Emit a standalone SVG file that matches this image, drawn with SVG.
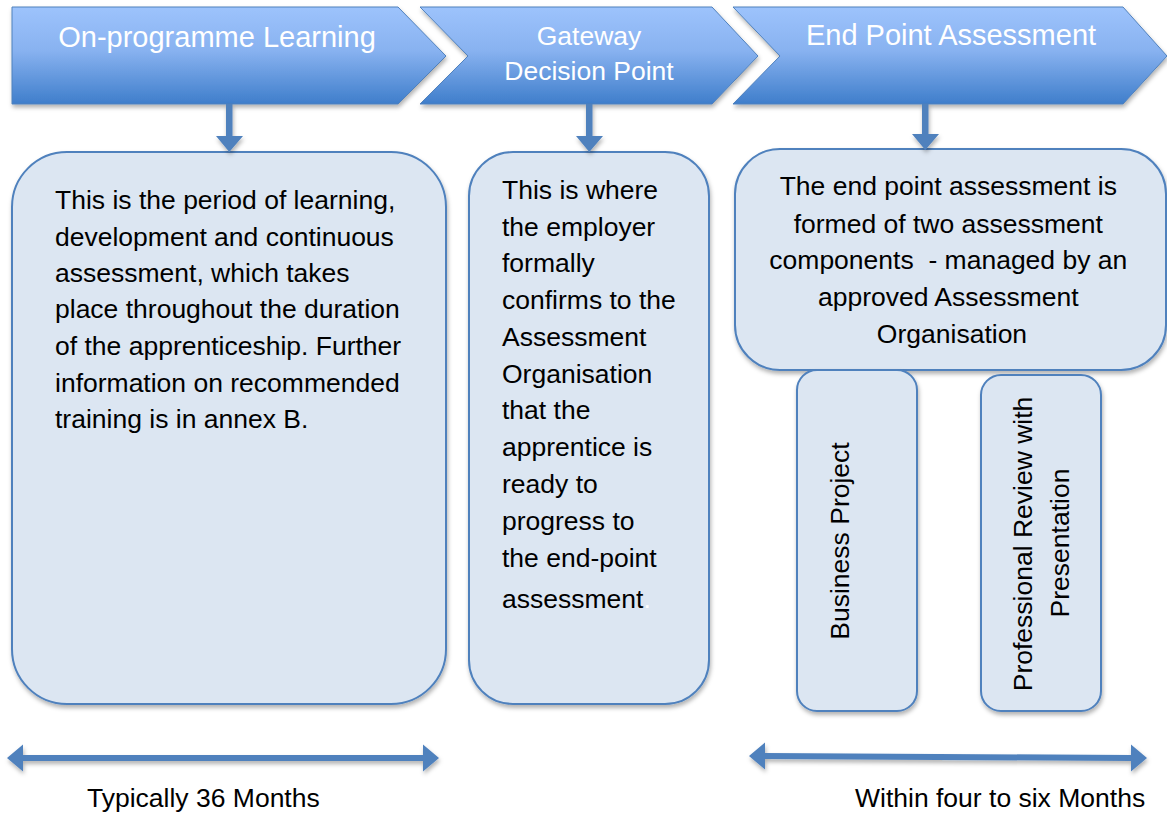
<svg xmlns="http://www.w3.org/2000/svg" width="1167" height="813" viewBox="0 0 1167 813">
<defs>
  <linearGradient id="chev" x1="0" y1="0" x2="0" y2="1">
    <stop offset="0" stop-color="#9dc3fc"/>
    <stop offset="0.45" stop-color="#88b2f0"/>
    <stop offset="1" stop-color="#3f7ecb"/>
  </linearGradient>
  <filter id="sh" filterUnits="userSpaceOnUse" x="0" y="0" width="1167" height="813">
    <feDropShadow dx="1" dy="3" stdDeviation="2" flood-color="#000" flood-opacity="0.3"/>
  </filter>
</defs>
<style>
  .chev { fill: url(#chev); stroke: #4f81bd; stroke-width: 1; filter: url(#sh); }
  .box { fill: #dce6f2; stroke: #4f81bd; stroke-width: 2; filter: url(#sh); }
  .ht { font-family: "Liberation Sans", Arial, sans-serif; fill: #ffffff; }
  .bt { font-family: "Liberation Sans", Arial, sans-serif; font-size: 26.5px; fill: #000000; }
  .arr { fill: #4f81bd; filter: url(#sh); }
</style>

<g id="chevron-onprog">
  <path class="chev" d="M12,7 L398,7 L446,56 L398,104 L12,104 Z"/>
  <text class="ht" x="217" y="47" font-size="29" text-anchor="middle">On-programme Learning</text>
</g>
<g id="chevron-gateway">
  <path class="chev" d="M420,7 L712,7 L758,56 L712,104 L420,104 L468,56 Z"/>
  <text class="ht" x="589" y="45" font-size="26.5" text-anchor="middle">Gateway</text>
  <text class="ht" x="589" y="80" font-size="26.5" text-anchor="middle">Decision Point</text>
</g>
<g id="chevron-epa">
  <path class="chev" d="M733,7 L1123,7 L1167,56 L1123,104 L733,104 L780,56 Z"/>
  <text class="ht" x="951" y="45" font-size="29" text-anchor="middle">End Point Assessment</text>
</g>

<g id="box-onprog">
  <rect class="box" x="12" y="152" width="434" height="552" rx="55" ry="55"/>
  <text class="bt">
    <tspan x="55" y="209">This is the period of learning,</tspan>
    <tspan x="55" y="246">development and continuous</tspan>
    <tspan x="55" y="282">assessment, which takes</tspan>
    <tspan x="55" y="318">place throughout the duration</tspan>
    <tspan x="55" y="355">of the apprenticeship. Further</tspan>
    <tspan x="55" y="392">information on recommended</tspan>
    <tspan x="55" y="428">training is in annex B.</tspan>
  </text>
</g>

<g id="box-gateway">
  <rect class="box" x="469" y="152" width="240" height="552" rx="44" ry="44"/>
  <text class="bt">
    <tspan x="502" y="199">This is where</tspan>
    <tspan x="502" y="236">the employer</tspan>
    <tspan x="502" y="272">formally</tspan>
    <tspan x="502" y="309">confirms to the</tspan>
    <tspan x="502" y="346">Assessment</tspan>
    <tspan x="502" y="383">Organisation</tspan>
    <tspan x="502" y="419">that the</tspan>
    <tspan x="502" y="456">apprentice is</tspan>
    <tspan x="502" y="493">ready to</tspan>
    <tspan x="502" y="530">progress to</tspan>
    <tspan x="502" y="567">the end-point</tspan>
    <tspan x="502" y="608">assessment<tspan fill="#ffffff">.</tspan></tspan>
  </text>
</g>

<g id="box-epa">
  <rect class="box" x="735" y="149" width="431" height="221" rx="45" ry="45"/>
  <text class="bt" text-anchor="middle">
    <tspan x="952" y="195">The end point assessment is</tspan>
    <tspan x="952" y="233">formed of two assessment</tspan>
    <tspan x="952" y="269">components&#160; - managed by an</tspan>
    <tspan x="952" y="306">approved Assessment</tspan>
    <tspan x="952" y="343">Organisation</tspan>
  </text>
</g>

<g id="box-business-project">
  <rect class="box" x="797" y="370" width="120" height="341" rx="20" ry="20"/>
  <text class="bt" text-anchor="middle" transform="translate(849,541) rotate(-90)">Business Project</text>
</g>

<g id="box-professional-review">
  <rect class="box" x="981" y="375" width="120" height="336" rx="20" ry="20"/>
  <text class="bt" text-anchor="middle" transform="translate(1032,544) rotate(-90)">Professional Review with</text>
  <text class="bt" text-anchor="middle" transform="translate(1069,543) rotate(-90)">Presentation</text>
</g>

<g id="connectors">
  <path class="arr" d="M226,104 L232.5,104 L232.5,136 L243,136 L229.3,152 L216,136 L226,136 Z"/>
  <path class="arr" d="M586,104 L592.5,104 L592.5,136 L603,136 L589.3,152 L576,136 L586,136 Z"/>
  <path class="arr" d="M922,104 L928.5,104 L928.5,134 L939,134 L925.3,150 L912,134 L922,134 Z"/>
  <path class="arr" d="M7,758 L23,744.5 L23,755 L423,755 L423,744.5 L439,758 L423,771.5 L423,761 L23,761 L23,771.5 Z"/>
  <path class="arr" d="M749,756 L765,742.5 L765,753 L1131,755 L1131,744.5 L1147,758 L1131,771.5 L1131,761 L765,759 L765,769.5 Z"/>
</g>

<g id="labels">
  <text class="bt" x="87" y="807" font-size="26">Typically 36 Months</text>
  <text class="bt" x="855" y="807" font-size="26">Within four to six Months</text>
</g>
</svg>
